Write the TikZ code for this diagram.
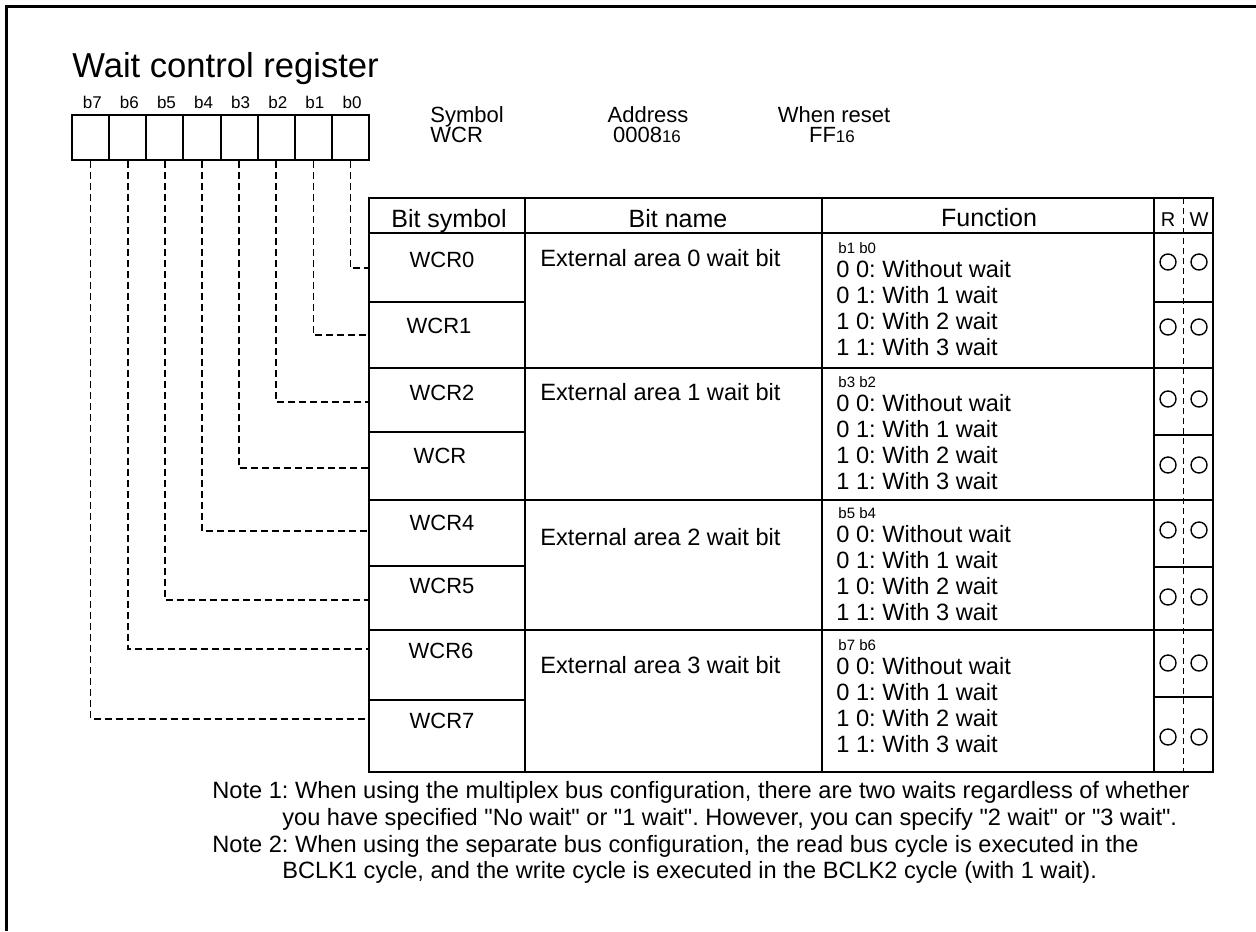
\documentclass[tikz,border=0pt]{standalone}
\usepackage{fontspec}
\setmainfont{Liberation Sans}[Ligatures=TeXOff]
\frenchspacing
\newcommand{\hexsub}[1]{{\fontsize{8.5}{8.5}\selectfont #1}}

\begin{document}
\begin{tikzpicture}[x=0.5pt,y=-0.5pt]
\tikzstyle{every node}+=[inner sep=0pt, anchor=base, font=\fontsize{11.8}{14}\selectfont]
\tikzstyle{bitbox}=[draw, line width=1pt, minimum width=18.55pt, minimum height=22.5pt, anchor=center]
\tikzstyle{small}=[font=\fontsize{8.5}{9}\selectfont]
\tikzstyle{tiny}=[font=\fontsize{7.5}{8}\selectfont]
\tikzstyle{cell}=[font=\fontsize{11}{13}\selectfont]
\tikzstyle{head}=[font=\fontsize{12.5}{15}\selectfont]
\tikzstyle{leader}=[line width=0.75pt, dash pattern=on 3.5pt off 2pt]
\tikzstyle{grid}=[line width=1pt]
\tikzstyle{rwring}=[draw, circle, line width=0.7pt, minimum size=8pt, anchor=center]
\useasboundingbox (0,0) rectangle (1256,931);
\draw [line width=1.5pt] (6,931) -- (6,7) -- (1256,7);

% register
\node [anchor=base west, font=\fontsize{17.3}{20}\selectfont] (title) at (72,77) {Wait control register};
\foreach \i in {0,...,7} {
  \node [bitbox] (b\i) at ({350.4-37.1*\i},137.5) {};
  \node [small] (bl\i) at ({352-37.1*\i},108) {b\i};
}
\node [cell, anchor=base west] (symhead) at (430,122) {Symbol};
\node [cell, anchor=base west] (symval) at (430,142) {WCR};
\node [cell] (adrhead) at (648,122) {Address};
\node [cell] (adrval) at (647,142) {0008\hexsub{16}};
\node [cell] (rsthead) at (834,122) {When reset};
\node [cell] (rstval) at (832,142) {FF\hexsub{16}};

% table
\draw [line width=1.3pt] (369,198) rectangle (1213,772);
\draw [grid] (369,233) -- (1213,233);
\foreach \y in {368,500,630} \draw [grid] (369,\y) -- (1213,\y);
\foreach \y in {302,432,566,700} \draw [grid] (369,\y) -- (525,\y);
\foreach \y in {302,435,567,697} \draw [grid] (1154,\y) -- (1213,\y);
\foreach \x in {525,822,1154} \draw [grid] (\x,198) -- (\x,772);
\draw [line width=0.5pt, dash pattern=on 3pt off 2pt] (1183,198) -- (1183,772);

\node [head] (hsym) at (449,227) {Bit symbol};
\node [head] (hname) at (678,227) {Bit name};
\node [head] (hfunc) at (989,226) {Function};
\node [font=\fontsize{10}{11}\selectfont] (hr) at (1168,226) {R};
\node [font=\fontsize{10}{11}\selectfont] (hw) at (1199,226) {W};

\node [cell] (wcr0) at (442,267) {WCR0};
\node [cell] (wcr1) at (439,333) {WCR1};
\node [cell] (wcr2) at (442,400) {WCR2};
\node [cell] (wcr3) at (440,463) {WCR};
\node [cell] (wcr4) at (442,530) {WCR4};
\node [cell] (wcr5) at (442,593) {WCR5};
\node [cell] (wcr6) at (441,658) {WCR6};
\node [cell] (wcr7) at (442,728) {WCR7};

% leaders from the bits
\foreach \i/\y in {0/268,1/335,2/402,3/468,4/531,5/600,6/649,7/719} {
  \coordinate (t\i) at (369,\y);
  \draw [leader] (b\i.south) |- (t\i);
}

\node [anchor=base west] (area0) at (540,266) {External area 0 wait bit};
\node [anchor=base west] (area1) at (540,400) {External area 1 wait bit};
\node [anchor=base west] (area2) at (540,545) {External area 2 wait bit};
\node [anchor=base west] (area3) at (540,673) {External area 3 wait bit};

\foreach \g/\hi/\lo/\y in {0/b1/b0/253,1/b3/b2/387,2/b5/b4/518,3/b7/b6/650} {
  \node [tiny, anchor=base west] (fb\g) at (838,\y) {\hi\ \lo};
  \foreach \j/\code/\txt in {0/0 0/Without wait,1/0 1/With 1 wait,2/1 0/With 2 wait,3/1 1/With 3 wait}
    \node [anchor=base west] (f\g\j) at (836,{\y+24+26*\j}) {\code: \txt};
}

\foreach \y [count=\k] in {262,327,399,465,530,597,663,737} {
  \node [rwring] (r\k) at (1168,\y) {};
  \node [rwring] (w\k) at (1199,\y) {};
}

% notes
\node [anchor=base west] (note1) at (212,798) {Note 1: When using the multiplex bus configuration, there are two waits regardless of whether};
\node [anchor=base west] (note1b) at (282,825) {you have specified "No wait" or "1 wait". However, you can specify "2 wait" or "3 wait".};
\node [anchor=base west] (note2) at (212,852) {Note 2: When using the separate bus configuration, the read bus cycle is executed in the};
\node [anchor=base west] (note2b) at (282,878) {BCLK1 cycle, and the write cycle is executed in the BCLK2 cycle (with 1 wait).};
\end{tikzpicture}
\end{document}
